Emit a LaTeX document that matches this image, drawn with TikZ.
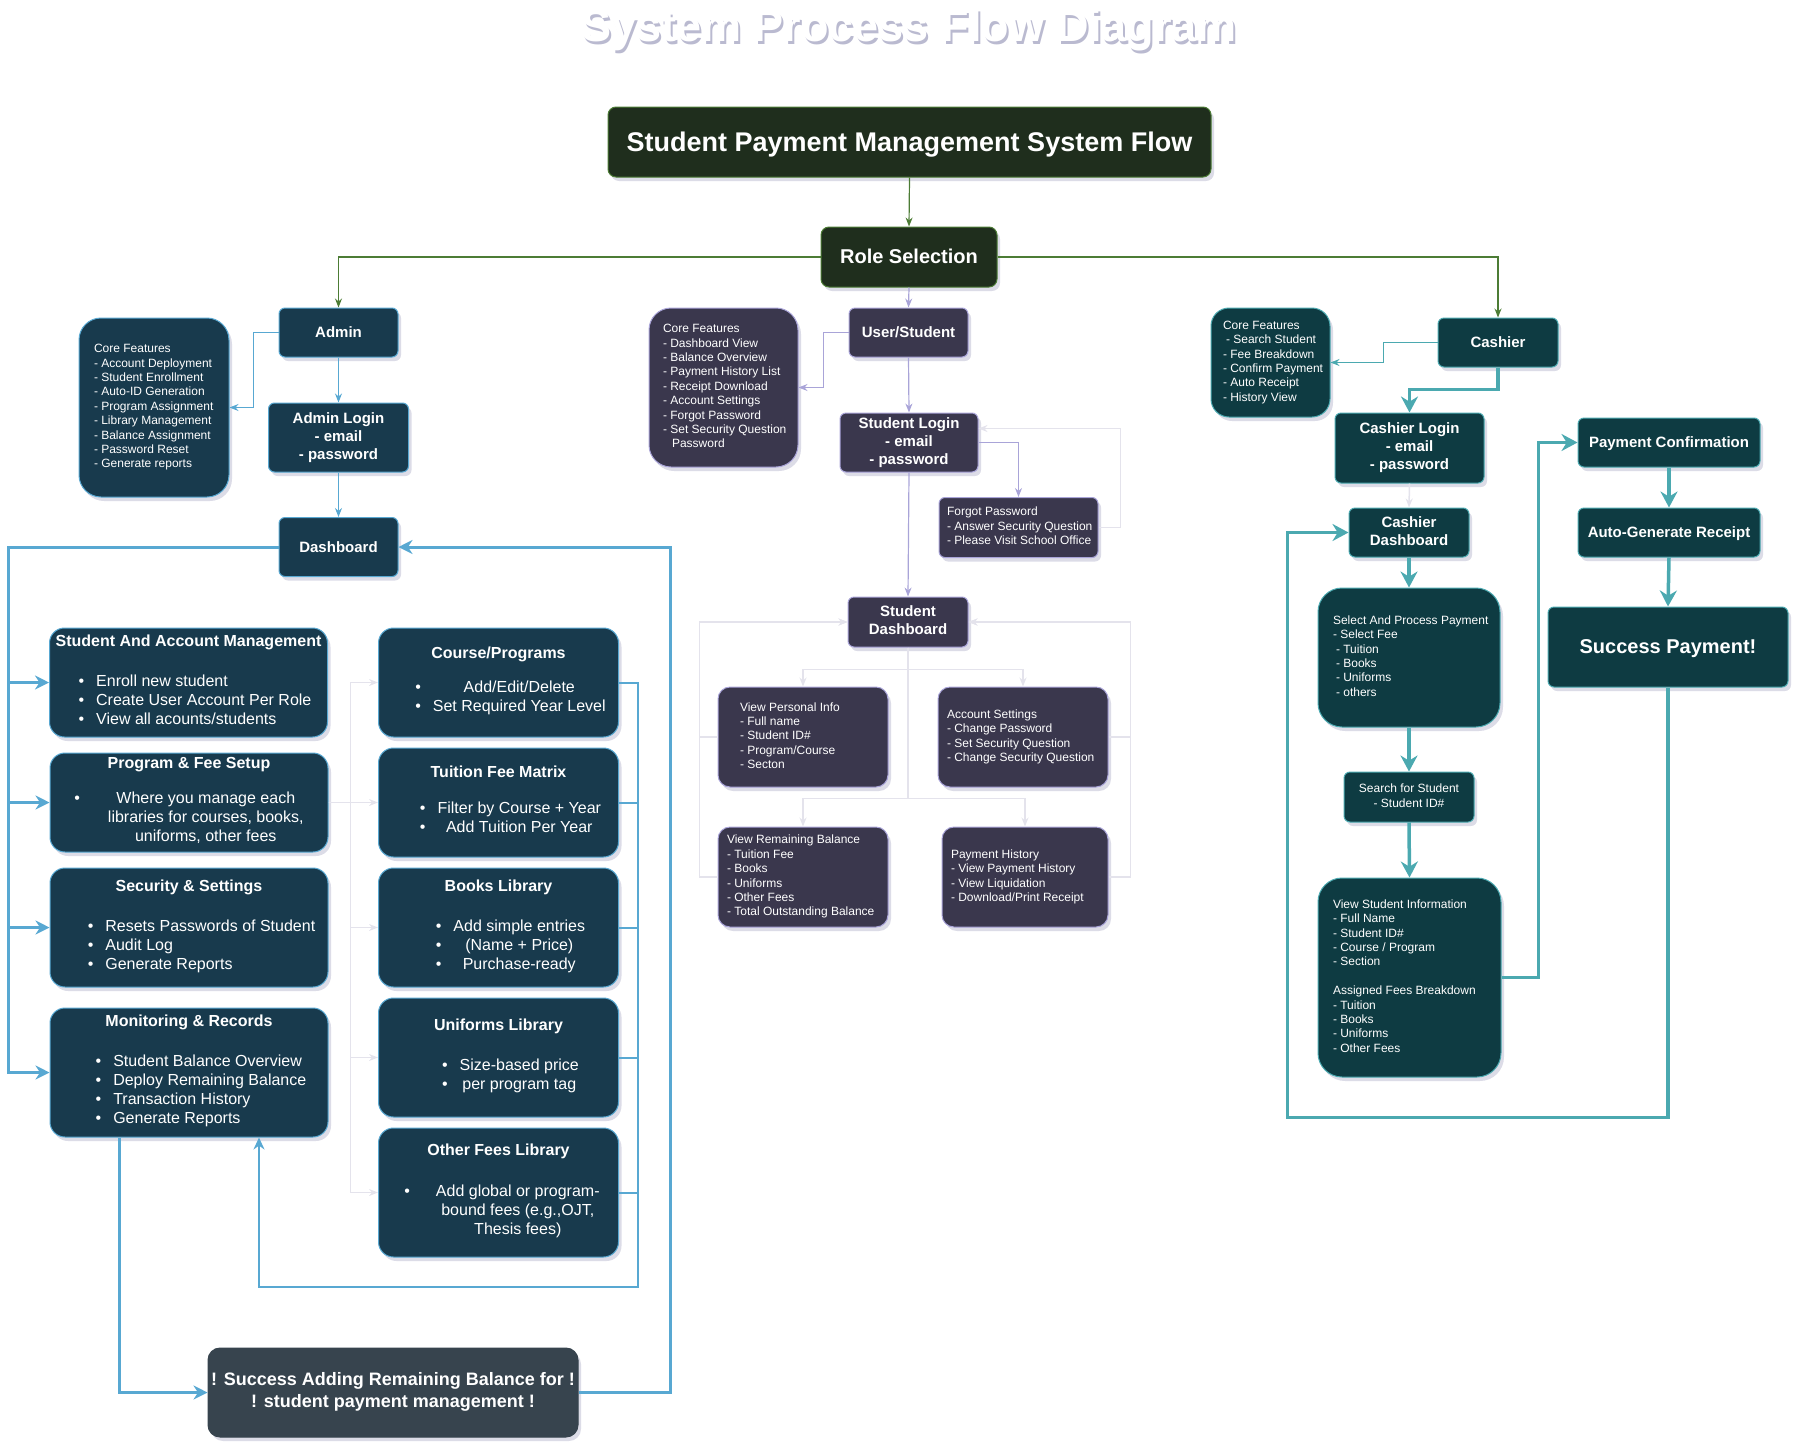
\documentclass[tikz,border=0pt]{standalone}
\usepackage{fontspec}
\setmainfont{Liberation Sans}
\usetikzlibrary{arrows.meta,shadows}

\definecolor{grnfill}{HTML}{1F2E1D}
\definecolor{grnline}{HTML}{4C7C35}
\definecolor{admfill}{HTML}{183A4D}
\definecolor{admline}{HTML}{58A8D2}
\definecolor{stufill}{HTML}{3A374D}
\definecolor{stuline}{HTML}{A9A4D8}
\definecolor{cshfill}{HTML}{0E3B42}
\definecolor{cshline}{HTML}{4BA9B0}
\definecolor{okfill}{HTML}{37444E}
\definecolor{faintc}{HTML}{E4E3EC}
\definecolor{shade}{HTML}{8C8CB0}

% bullet lists inside the boxes
\newcommand{\blist}[2][12pt]{\begin{tabular}[t]{@{}l@{\hspace{#1}}l@{}}#2\end{tabular}}
\newcommand{\clist}[2][12pt]{\begin{tabular}[t]{@{}l@{\hspace{#1}}c@{}}#2\end{tabular}}
% left aligned note text: box width, left pad, lines
\newcommand{\ltxt}[3]{\makebox[#1pt][l]{\hspace*{#2pt}\begin{tabular}{@{}l@{}}#3\end{tabular}}}
% line box of 1.2em, baseline set a bit low
\newcommand{\dstrut}{\rule[-0.2535em]{0pt}{1.2em}}

\tikzset{
  shd/.style={drop shadow={shadow xshift=3pt,shadow yshift=-4pt,fill=shade,opacity=.3}},
  box/.style={rectangle,rounded corners=#1,draw,line width=1pt,inner sep=0pt,
    text=white,align=center,shd,
    execute at begin node=\dstrut,execute at end node=\dstrut},
  box/.default=6pt,
  sz/.style 2 args={minimum width=#1pt,minimum height=#2pt},
  grn/.style={box=8pt,fill=grnfill,draw=grnline},
  adm/.style={box=#1,fill=admfill,draw=admline},
  adm/.default=6pt,
  stu/.style={box=#1,fill=stufill,draw=stuline},
  stu/.default=6pt,
  csh/.style={box=#1,fill=cshfill,draw=cshline},
  csh/.default=6pt,
  hd/.style={font=\bfseries\fontsize{15}{18}\selectfont},
  big/.style={font=\fontsize{16}{19}\selectfont},
  txt/.style={font=\fontsize{12}{14.4}\selectfont},
  gline/.style={draw=grnline,line width=1.2pt,-{Stealth[length=9pt,width=7pt]}},
  aline/.style={draw=admline,line width=1.2pt,-{Stealth[length=9pt,width=7pt]}},
  aloop/.style={draw=admline,line width=3pt,-{Stealth[length=14pt,width=14pt]}},
  amid/.style={draw=admline,line width=2pt},
  sline/.style={draw=stuline,line width=1.2pt,-{Stealth[length=9pt,width=7pt]}},
  cline/.style={draw=cshline,line width=1.2pt,-{Stealth[length=9pt,width=7pt]}},
  cloop/.style={draw=cshline,line width=3.5pt,-{Stealth[length=16pt,width=17pt]}},
  fline/.style={draw=faintc,line width=1.5pt,-{Stealth[length=9pt,width=7pt]}}
}

\begin{document}
\begin{tikzpicture}[x=1pt,y=-1pt]
\useasboundingbox (0,0) rectangle (1800,1449);

% title
\node[font=\bfseries\fontsize{45}{54}\selectfont,text=white] (title) at (909,31)
  {\rlap{\hspace{2pt}\raisebox{-3pt}{\color{shade!60}System Process Flow Diagram}}System Process Flow Diagram};

\node[grn,sz={603}{70},font=\bfseries\fontsize{27}{32}\selectfont] (main) at (909.5,142) {Student Payment Management System Flow};
\node[grn,sz={176}{60},font=\bfseries\fontsize{20}{24}\selectfont] (role) at (909,257) {Role Selection};

% admin side
\node[adm,sz={119}{49},hd] (admin) at (338.5,332.5) {Admin};
\node[adm=22pt,sz={150}{179},txt] (admcf) at (154,407.5) {\ltxt{150}{15}{Core Features\\- Account Deployment\\- Student Enrollment\\- Auto-ID Generation\\- Program Assignment\\- Library Management\\- Balance Assignment\\- Password Reset\\- Generate reports}};
\node[adm,sz={140}{69},hd] (admlogin) at (338.5,437.5) {Admin Login\\- email\\- password};
\node[adm,sz={119}{59},hd] (dash) at (338.5,547) {Dashboard};

\node[adm=15pt,sz={278}{109},big] (sam) at (188.5,682.5) {{\bfseries Student And Account Management}\\[21pt]\hspace*{13pt}\blist{\textbullet & Enroll new student\\ \textbullet & Create User Account Per Role\\ \textbullet & View all acounts/students}};
\node[adm=15pt,sz={278}{99},big] (pfs) at (189,802.5) {{\bfseries Program \& Fee Setup}\\[16pt]\clist[28pt]{\textbullet & Where you manage each\\ & libraries for courses, books,\\ & uniforms, other fees}};
\node[adm=15pt,sz={278}{119},big] (sec) at (189,927.5) {{\bfseries Security \& Settings}\\[21pt]\hspace*{25pt}\blist{\textbullet & Resets Passwords of Student\\ \textbullet & Audit Log\\ \textbullet & Generate Reports}};
\node[adm=15pt,sz={278}{129},big] (mon) at (189,1072.5) {{\bfseries Monitoring \& Records}\\[21pt]\hspace*{24pt}\blist{\textbullet & Student Balance Overview\\ \textbullet & Deploy Remaining Balance\\ \textbullet & Transaction History\\ \textbullet & Generate Reports}};

\node[adm=15pt,sz={240}{109},big] (course) at (498.5,682.5) {{\bfseries Course/Programs}\\[15pt]\hspace*{24pt}\clist{\textbullet & Add/Edit/Delete\\ \textbullet & Set Required Year Level}};
\node[adm=15pt,sz={240}{109},big] (tuition) at (498.5,802.5) {{\bfseries Tuition Fee Matrix}\\[17pt]\hspace*{24pt}\clist{\textbullet & Filter by Course + Year\\ \textbullet & Add Tuition Per Year}};
\node[adm=15pt,sz={240}{119},big] (books) at (498.5,927.5) {{\bfseries Books Library}\\[21pt]\hspace*{24pt}\clist{\textbullet & Add simple entries\\ \textbullet & (Name + Price)\\ \textbullet & Purchase-ready}};
\node[adm=15pt,sz={240}{119},big] (unif) at (498.5,1057.5) {{\bfseries Uniforms Library}\\[21pt]\hspace*{24pt}\clist{\textbullet & Size-based price\\ \textbullet & per program tag}};
\node[adm=15pt,sz={240}{129},big] (others) at (498.5,1192.5) {{\bfseries Other Fees Library}\\[22pt]\hspace*{7pt}\clist[26pt]{\textbullet & Add global or program-\\ & bound fees (e.g.,OJT,\\ & Thesis fees)}};

\node[box=12pt,fill=okfill,draw=okfill,sz={370}{89},font=\bfseries\fontsize{18}{22}\selectfont] (succ) at (393,1392.5) {! Success Adding Remaining Balance for !\\! student payment management !};

% student side
\node[stu,sz={119}{49},hd] (user) at (908.5,332.5) {User/Student};
\node[stu=22pt,sz={149}{159},txt] (stcf) at (723.5,387.5) {\ltxt{149}{14}{Core Features\\- Dashboard View\\- Balance Overview\\- Payment History List\\- Receipt Download\\- Account Settings\\- Forgot Password\\- Set Security Question\\\hspace*{9pt}Password}};
\node[stu,sz={138}{59},hd] (slogin) at (909,442.5) {Student Login\\- email\\- password};
\node[stu,sz={159}{60},txt] (forgot) at (1018.5,527.5) {\ltxt{159}{8}{Forgot Password\\- Answer Security Question\\- Please Visit School Office}};
\node[stu,sz={120}{50},hd] (sdash) at (908,622) {Student\\Dashboard};
\node[stu=12pt,sz={170}{100},txt] (vpi) at (803,737) {\ltxt{170}{22}{View Personal Info\\- Full name\\- Student ID\#\\- Program/Course\\- Secton}};
\node[stu=12pt,sz={170}{100},txt] (acct) at (1023,737) {\ltxt{170}{9}{Account Settings\\- Change Password\\- Set Security Question\\- Change Security Question}};
\node[stu=12pt,sz={170}{100},txt] (vrb) at (803,877) {\ltxt{170}{9}{View Remaining Balance\\- Tuition Fee\\- Books\\- Uniforms\\- Other Fees\\- Total Outstanding Balance}};
\node[stu=12pt,sz={166}{100},txt] (payhist) at (1025,877) {\ltxt{166}{9}{Payment History\\- View Payment History\\- View Liquidation\\- Download/Print Receipt}};

% cashier side
\node[csh,sz={120}{49},hd] (cashier) at (1498,342.5) {Cashier};
\node[csh=18pt,sz={119}{109},txt] (ccf) at (1270.5,362.5) {\ltxt{119}{12}{Core Features\\\hspace*{3pt}- Search Student\\- Fee Breakdown\\- Confirm Payment\\- Auto Receipt\\- History View}};
\node[csh,sz={149}{70},hd] (clogin) at (1409.5,448) {Cashier Login\\- email\\- password};
\node[csh,sz={120}{49},hd] (cdash) at (1409,532.5) {Cashier\\Dashboard};
\node[csh=24pt,sz={182}{139},txt] (select) at (1409,657.5) {\ltxt{182}{15}{Select And Process Payment\\- Select Fee\\\hspace*{3pt}- Tuition\\\hspace*{3pt}- Books\\\hspace*{3pt}- Uniforms\\\hspace*{3pt}- others}};
\node[csh,sz={130}{50},txt] (search) at (1409,797) {Search for Student\\- Student ID\#};
\node[csh=24pt,sz={183}{199},txt] (vsi) at (1409.5,977.5) {\ltxt{183}{15}{View Student Information\\- Full Name\\- Student ID\#\\- Course / Program\\- Section\\[14.4pt]Assigned Fees Breakdown\\- Tuition\\- Books\\- Uniforms\\- Other Fees}};
\node[csh,sz={182}{49},hd] (pconf) at (1669,442.5) {Payment Confirmation};
\node[csh,sz={182}{49},hd] (agr) at (1669,532.5) {Auto-Generate Receipt};
\node[csh,sz={240}{80},font=\bfseries\fontsize{20}{24}\selectfont] (sp) at (1668,647) {Success Payment!};

% top connectors
\draw[gline] (main.south) -- (role.north);
\draw[gline] (role.west) -| (admin.north);
\draw[gline] (role.east) -| (cashier.north);
\draw[sline] (role.south) -- (user.north);

% admin connectors
\draw[aline] (admin.west) -- ++(-25,0) |- (admcf.east);
\draw[aline] (admin.south) -- (admlogin.north);
\draw[aline] (admlogin.south) -- (dash.north);
\foreach \n in {sam,pfs,sec,mon}
  \draw[aloop] (dash.west) -| ([xshift=-41pt]\n.west) -- (\n.west);
\foreach \n in {course,tuition,books,unif,others}
  \draw[fline] (pfs.east) -- ++(22,0) |- (\n.west);
\draw[amid,-{Stealth[length=12pt,width=11pt]}] (course.east) -| (638,1287) -| ([xshift=70pt]mon.south);
\foreach \n in {tuition,books,unif,others}
  \draw[amid] (\n.east) -- (\n.east -| 638,0);
\draw[aloop] ([xshift=-70pt]mon.south) |- (succ.west);
\draw[aloop] (succ.east) -| ([xshift=272pt]dash.east) -- (dash.east);

% student connectors
\draw[sline] (user.west) -- ++(-25,0) |- (stcf.east);
\draw[sline] (user.south) -- (slogin.north);
\draw[sline] (slogin.east) -| (forgot.north);
\draw[fline] (forgot.east) -- ++(22,0) |- ([yshift=14pt]slogin.east);
\draw[sline] (slogin.south) -- (sdash.north);
\draw[fline] (sdash.south) -- ++(0,22) -| (vpi.north);
\draw[fline] (sdash.south) -- ++(0,22) -| (acct.north);
\draw[fline] (sdash.south) -- ++(0,151) -| (vrb.north);
\draw[fline] (sdash.south) -- ++(0,151) -| (payhist.north);
\draw[fline] (vpi.west) -| ([xshift=-148pt]sdash.west) -- (sdash.west);
\draw[fline] (vrb.west) -| ([xshift=-148pt]sdash.west) -- (sdash.west);
\draw[fline] (acct.east) -| ([xshift=162pt]sdash.east) -- (sdash.east);
\draw[fline] (payhist.east) -| ([xshift=162pt]sdash.east) -- (sdash.east);

% cashier connectors
\draw[cline] (cashier.west) -- ++(-54,0) |- (ccf.east);
\draw[cloop] (cashier.south) -- ++(0,22) -| (clogin.north);
\draw[fline] (clogin.south) -- (cdash.north);
\draw[cloop] (cdash.south) -- (select.north);
\draw[cloop] (select.south) -- (search.north);
\draw[cloop] (search.south) -- (vsi.north);
\draw[cloop] (vsi.east) -| ([xshift=-39pt]pconf.west) -- (pconf.west);
\draw[cloop] (pconf.south) -- (agr.north);
\draw[cloop] (agr.south) -- (sp.north);
\draw[cloop] (sp.south) -- ++(0,430) -| ([xshift=-61pt]cdash.west) -- (cdash.west);

\end{tikzpicture}
\end{document}
